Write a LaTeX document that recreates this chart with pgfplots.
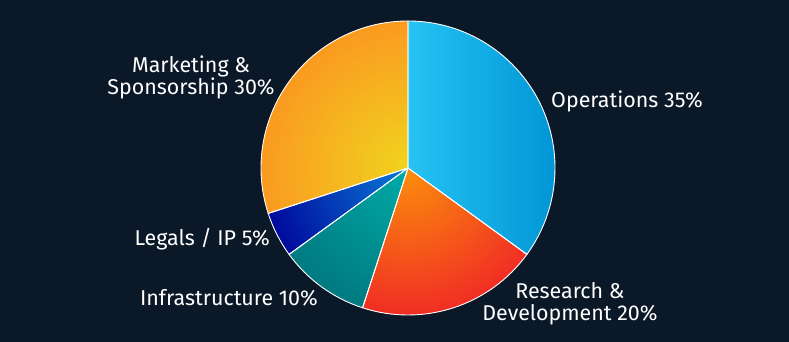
\documentclass[border=0pt]{standalone}
\usepackage{pgfplots}
\pgfplotsset{compat=1.18}
\usepackage{pgfplotstable}
\usepackage{fontspec}
\setmainfont{Fira Sans}
\definecolor{bg}{HTML}{0B1828}
\definecolor{opL}{HTML}{26C3F3}
\definecolor{opR}{HTML}{0096D6}
\definecolor{rdI}{HTML}{FC8E0C}
\definecolor{rdO}{HTML}{F02E24}
\definecolor{inI}{HTML}{00ABA8}
\definecolor{inO}{HTML}{007A80}
\definecolor{lgI}{HTML}{0A7CD8}
\definecolor{lgO}{HTML}{000A9C}
\definecolor{mkI}{HTML}{F0D41E}
\definecolor{mkO}{HTML}{FA9A20}

\pgfplotstableread[col sep=comma]{
name,value
Operations,35
Research,20
Infrastructure,10
Legals,5
Marketing,30
}\piedata

\newcommand\radslice[4]{%
  \begin{scope}
    \clip (axis cs:0,0) -- ++(#1:147bp) arc[start angle=#1, end angle=#2, radius=147bp] -- cycle;
    \shade[inner color=#3, outer color=#4] (axis cs:0,0) circle[radius=147bp];
  \end{scope}}
\newcommand\sliceborder[2]{%
  \draw[white, line width=0.9bp, line join=round] (axis cs:0,0) -- ++(#1:147bp) arc[start angle=#1, end angle=#2, radius=147bp] -- cycle;}

\begin{document}
\begin{tikzpicture}
\fill[bg] (0,0) rectangle (789bp,342bp);
\pgfplotstablegetelem{0}{value}\of\piedata\edef\vA{\pgfplotsretval}
\pgfplotstablegetelem{1}{value}\of\piedata\edef\vB{\pgfplotsretval}
\pgfplotstablegetelem{2}{value}\of\piedata\edef\vC{\pgfplotsretval}
\pgfplotstablegetelem{3}{value}\of\piedata\edef\vD{\pgfplotsretval}
\pgfplotstablegetelem{4}{value}\of\piedata\edef\vE{\pgfplotsretval}
\pgfmathsetmacro\aA{90}
\pgfmathsetmacro\aB{\aA-3.6*\vA}
\pgfmathsetmacro\aC{\aB-3.6*\vB}
\pgfmathsetmacro\aD{\aC-3.6*\vC}
\pgfmathsetmacro\aE{\aD-3.6*\vD}
\pgfmathsetmacro\aF{\aE-3.6*\vE}
\begin{axis}[
  at={(408bp,174bp)}, anchor=center,
  x=147bp, y=147bp,
  xmin=-1, xmax=1, ymin=-1, ymax=1,
  hide axis, clip=false,
  scale only axis,
]
\pgfplotsextra{%
  \shade[left color=opL, right color=opR] (axis cs:0,0) -- ++(\aA:147bp) arc[start angle=\aA, end angle=\aB, radius=147bp] -- cycle;
  \radslice{\aB}{\aC}{rdI}{rdO}%
  \radslice{\aC}{\aD}{inI}{inO}%
  \radslice{\aD}{\aE}{lgI}{lgO}%
  \radslice{\aE}{\aF}{mkI}{mkO}%
  \sliceborder{\aA}{\aB}%
  \sliceborder{\aB}{\aC}%
  \sliceborder{\aC}{\aD}%
  \sliceborder{\aD}{\aE}%
  \sliceborder{\aE}{\aF}%
}
\tikzset{lbl/.style={text=white, font=\fontsize{21.5}{22}\selectfont, inner sep=0pt}}
\node[lbl, anchor=west] at (axis cs:0.973,0.456) {Operations 35\%};
\node[lbl, align=center] at (axis cs:1.102,-0.925) {Research \&\\Development 20\%};
\node[lbl, anchor=east] at (axis cs:-0.612,-0.884) {Infrastructure 10\%};
\node[lbl, anchor=east] at (axis cs:-0.939,-0.483) {Legals / IP 5\%};
\node[lbl, align=center] at (axis cs:-1.476,0.619) {Marketing \&\\Sponsorship 30\%};
\end{axis}
\pgfresetboundingbox
\useasboundingbox (0,0) rectangle (789bp,342bp);
\end{tikzpicture}
\end{document}
